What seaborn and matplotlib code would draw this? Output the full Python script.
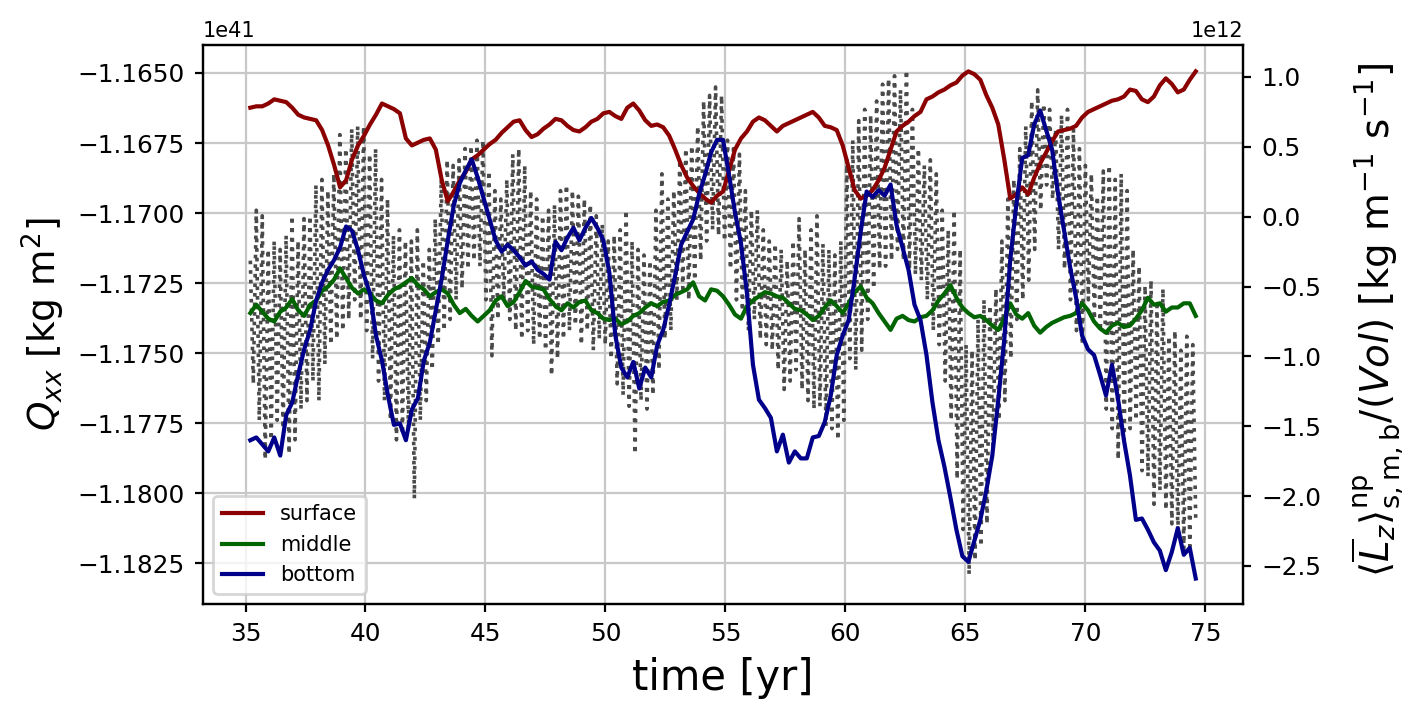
import numpy as np
import seaborn as sns
import matplotlib.pyplot as plt
from matplotlib.ticker import MultipleLocator

plt.rcParams["font.size"] = 7.5

# sampling of the time axis [yr]
t_start, t_end, n_pts = 35.2, 74.6, 159

# angular momentum per layer [1e12 kg m^-1 s^-1]
surface = [0.78, 0.79, 0.79, 0.81, 0.84, 0.83, 0.82, 0.78, 0.73, 0.71,
           0.70, 0.69, 0.62, 0.51, 0.37, 0.21, 0.26, 0.41, 0.51, 0.58,
           0.66, 0.73, 0.81, 0.79, 0.77, 0.74, 0.56, 0.51, 0.53, 0.55,
           0.56, 0.48, 0.26, 0.11, 0.18, 0.26, 0.32, 0.41, 0.44, 0.48,
           0.52, 0.55, 0.60, 0.64, 0.68, 0.69, 0.62, 0.57, 0.59, 0.63,
           0.66, 0.70, 0.69, 0.65, 0.62, 0.61, 0.64, 0.68, 0.70, 0.74,
           0.75, 0.72, 0.70, 0.78, 0.81, 0.76, 0.69, 0.65, 0.66, 0.64,
           0.58, 0.48, 0.37, 0.28, 0.22, 0.17, 0.13, 0.10, 0.15, 0.18,
           0.33, 0.48, 0.56, 0.61, 0.68, 0.71, 0.69, 0.65, 0.61, 0.65,
           0.67, 0.69, 0.71, 0.73, 0.75, 0.71, 0.65, 0.64, 0.62, 0.51,
           0.35, 0.19, 0.13, 0.15, 0.19, 0.26, 0.35, 0.48, 0.61, 0.65,
           0.68, 0.72, 0.75, 0.84, 0.86, 0.89, 0.91, 0.94, 0.96, 1.01,
           1.04, 1.02, 0.98, 0.87, 0.78, 0.66, 0.41, 0.13, 0.16, 0.21,
           0.16, 0.28, 0.38, 0.46, 0.54, 0.61, 0.62, 0.63, 0.65, 0.71,
           0.75, 0.77, 0.79, 0.81, 0.83, 0.84, 0.86, 0.91, 0.90, 0.84,
           0.82, 0.86, 0.94, 0.99, 0.95, 0.89, 0.91, 0.98, 1.04]

middle = [-0.69, -0.63, -0.68, -0.73, -0.75, -0.68, -0.65, -0.59, -0.67, -0.71,
          -0.63, -0.60, -0.53, -0.50, -0.45, -0.37, -0.44, -0.51, -0.55, -0.52,
          -0.55, -0.60, -0.62, -0.56, -0.52, -0.50, -0.47, -0.44, -0.49, -0.52,
          -0.57, -0.54, -0.52, -0.55, -0.63, -0.69, -0.66, -0.71, -0.75, -0.71,
          -0.67, -0.60, -0.57, -0.64, -0.61, -0.54, -0.46, -0.50, -0.51, -0.52,
          -0.59, -0.64, -0.67, -0.62, -0.65, -0.61, -0.60, -0.67, -0.69, -0.73,
          -0.74, -0.73, -0.77, -0.75, -0.71, -0.69, -0.65, -0.62, -0.64, -0.61,
          -0.60, -0.56, -0.54, -0.52, -0.47, -0.57, -0.60, -0.52, -0.53, -0.57,
          -0.63, -0.70, -0.73, -0.64, -0.60, -0.57, -0.54, -0.55, -0.57, -0.58,
          -0.62, -0.66, -0.67, -0.70, -0.74, -0.71, -0.65, -0.60, -0.64, -0.69,
          -0.62, -0.54, -0.50, -0.58, -0.62, -0.69, -0.75, -0.81, -0.73, -0.71,
          -0.74, -0.75, -0.72, -0.71, -0.67, -0.60, -0.55, -0.49, -0.58, -0.65,
          -0.69, -0.72, -0.71, -0.74, -0.78, -0.81, -0.73, -0.62, -0.70, -0.73,
          -0.69, -0.78, -0.83, -0.79, -0.76, -0.74, -0.72, -0.71, -0.69, -0.62,
          -0.67, -0.75, -0.80, -0.83, -0.78, -0.76, -0.79, -0.78, -0.73, -0.67,
          -0.58, -0.63, -0.62, -0.68, -0.65, -0.65, -0.62, -0.62, -0.71]

bottom = [-1.60, -1.58, -1.63, -1.68, -1.58, -1.71, -1.42, -1.33, -1.13, -0.95,
          -0.81, -0.60, -0.47, -0.38, -0.31, -0.22, -0.07, -0.10, -0.24, -0.42,
          -0.55, -0.85, -1.03, -1.28, -1.49, -1.48, -1.60, -1.38, -1.30, -1.03,
          -0.90, -0.67, -0.44, -0.17, 0.08, 0.24, 0.33, 0.41, 0.28, 0.13,
          -0.02, -0.17, -0.25, -0.20, -0.24, -0.29, -0.35, -0.32, -0.38, -0.41,
          -0.45, -0.18, -0.24, -0.15, -0.08, -0.17, -0.08, -0.01, -0.08, -0.17,
          -0.40, -0.85, -1.08, -1.15, -1.04, -1.23, -1.08, -1.15, -0.92, -0.81,
          -0.63, -0.42, -0.20, -0.11, -0.02, 0.16, 0.30, 0.46, 0.55, 0.55,
          0.30, 0.03, -0.19, -0.55, -1.06, -1.31, -1.37, -1.44, -1.68, -1.56,
          -1.76, -1.68, -1.73, -1.73, -1.58, -1.57, -1.47, -1.28, -0.99, -0.85,
          -0.74, -0.44, -0.11, 0.18, 0.14, 0.19, 0.15, 0.23, -0.06, -0.22,
          -0.38, -0.63, -0.74, -0.99, -1.33, -1.60, -1.79, -2.01, -2.24, -2.43,
          -2.47, -2.32, -2.17, -1.96, -1.71, -1.31, -0.88, -0.31, 0.08, 0.42,
          0.44, 0.66, 0.76, 0.62, 0.48, 0.16, -0.10, -0.36, -0.58, -0.85,
          -0.95, -0.99, -1.13, -1.28, -1.06, -1.30, -1.60, -1.85, -2.17, -2.16,
          -2.24, -2.33, -2.39, -2.53, -2.40, -2.23, -2.42, -2.37, -2.59]

# Q_xx [1e41 kg m^2], fast oscillation: crest and trough of each cycle
qxx_hi = [-1.1717, -1.1699, -1.1701, -1.1713, -1.1710, -1.1713, -1.1708, -1.1701, -1.1710, -1.1702,
          -1.1701, -1.1690, -1.1688, -1.1692, -1.1686, -1.1672, -1.1677, -1.1670, -1.1669, -1.1669,
          -1.1679, -1.1677, -1.1688, -1.1695, -1.1708, -1.1706, -1.1710, -1.1710, -1.1706, -1.1717,
          -1.1713, -1.1702, -1.1688, -1.1681, -1.1683, -1.1681, -1.1677, -1.1676, -1.1674, -1.1674,
          -1.1685, -1.1692, -1.1695, -1.1688, -1.1679, -1.1677, -1.1683, -1.1692, -1.1695, -1.1701,
          -1.1699, -1.1697, -1.1692, -1.1690, -1.1692, -1.1694, -1.1695, -1.1697, -1.1701, -1.1704,
          -1.1710, -1.1708, -1.1706, -1.1699, -1.1710, -1.1713, -1.1715, -1.1717, -1.1699, -1.1686,
          -1.1695, -1.1692, -1.1681, -1.1677, -1.1676, -1.1669, -1.1660, -1.1658, -1.1655, -1.1658,
          -1.1674, -1.1677, -1.1679, -1.1692, -1.1699, -1.1699, -1.1706, -1.1710, -1.1711, -1.1713,
          -1.1717, -1.1710, -1.1702, -1.1713, -1.1706, -1.1701, -1.1711, -1.1713, -1.1715, -1.1710,
          -1.1681, -1.1674, -1.1667, -1.1663, -1.1665, -1.1660, -1.1654, -1.1652, -1.1651, -1.1656,
          -1.1649, -1.1663, -1.1677, -1.1683, -1.1681, -1.1686, -1.1699, -1.1706, -1.1699, -1.1713,
          -1.1747, -1.1749, -1.1738, -1.1731, -1.1733, -1.1727, -1.1710, -1.1695, -1.1688, -1.1677,
          -1.1669, -1.1660, -1.1656, -1.1661, -1.1663, -1.1670, -1.1665, -1.1663, -1.1670, -1.1677,
          -1.1683, -1.1686, -1.1694, -1.1685, -1.1683, -1.1688, -1.1686, -1.1692, -1.1713, -1.1719,
          -1.1726, -1.1724, -1.1733, -1.1727, -1.1744, -1.1742, -1.1749, -1.1744, -1.1747]

qxx_lo = [-1.1761, -1.1774, -1.1788, -1.1781, -1.1774, -1.1777, -1.1786, -1.1781, -1.1770, -1.1767,
          -1.1760, -1.1767, -1.1754, -1.1747, -1.1745, -1.1742, -1.1738, -1.1731, -1.1738, -1.1742,
          -1.1752, -1.1760, -1.1767, -1.1774, -1.1781, -1.1779, -1.1777, -1.1802, -1.1774, -1.1767,
          -1.1756, -1.1747, -1.1742, -1.1738, -1.1731, -1.1727, -1.1720, -1.1717, -1.1719, -1.1731,
          -1.1751, -1.1738, -1.1731, -1.1738, -1.1742, -1.1745, -1.1742, -1.1747, -1.1745, -1.1749,
          -1.1758, -1.1752, -1.1745, -1.1742, -1.1740, -1.1747, -1.1742, -1.1749, -1.1745, -1.1747,
          -1.1752, -1.1761, -1.1765, -1.1769, -1.1786, -1.1767, -1.1770, -1.1765, -1.1756, -1.1745,
          -1.1742, -1.1731, -1.1727, -1.1731, -1.1724, -1.1717, -1.1710, -1.1706, -1.1708, -1.1710,
          -1.1720, -1.1731, -1.1735, -1.1742, -1.1738, -1.1745, -1.1747, -1.1749, -1.1756, -1.1763,
          -1.1760, -1.1756, -1.1763, -1.1767, -1.1770, -1.1769, -1.1776, -1.1777, -1.1781, -1.1774,
          -1.1752, -1.1756, -1.1749, -1.1738, -1.1727, -1.1720, -1.1719, -1.1717, -1.1713, -1.1717,
          -1.1720, -1.1722, -1.1724, -1.1731, -1.1742, -1.1747, -1.1760, -1.1774, -1.1795, -1.1813,
          -1.1829, -1.1824, -1.1819, -1.1811, -1.1785, -1.1774, -1.1767, -1.1752, -1.1738, -1.1731,
          -1.1724, -1.1713, -1.1699, -1.1690, -1.1695, -1.1713, -1.1720, -1.1731, -1.1742, -1.1747,
          -1.1731, -1.1738, -1.1742, -1.1770, -1.1777, -1.1788, -1.1781, -1.1777, -1.1774, -1.1792,
          -1.1794, -1.1804, -1.1799, -1.1806, -1.1811, -1.1815, -1.1820, -1.1819, -1.1810]

time = np.linspace(t_start, t_end, n_pts)
qxx = np.empty(2 * n_pts)
qxx[0::2] = qxx_hi
qxx[1::2] = qxx_lo
qxx_time = np.linspace(t_start, t_end, 2 * n_pts)

fig, ax = plt.subplots(figsize=(7.065, 3.57), dpi=200)
fig.subplots_adjust(left=0.1437, right=0.8797, bottom=0.1541, top=0.937)

sns.lineplot(x=qxx_time, y=qxx * 1e41, ax=ax, color="#4a4a4a", linestyle=":",
             linewidth=1.3, estimator=None, sort=False)
ax.grid(True, color="#c8c8c8", linewidth=0.8)
ax.set_axisbelow(True)

ax2 = ax.twinx()
layers = [("surface", surface, "darkred"),
          ("middle", middle, "darkgreen"),
          ("bottom", bottom, "darkblue")]
for name, vals, col in layers:
    sns.lineplot(x=time, y=np.array(vals) * 1e12, ax=ax2, color=col,
                 linewidth=1.5, label=name, estimator=None)
ax2.legend(loc="lower left", fontsize=7.5)

ax.set_xlim(33.23, 76.57)
ax.set_ylim(-1.18396e41, -1.1640e41)
ax2.set_ylim(-2.772e12, 1.229e12)
ax.yaxis.set_major_locator(MultipleLocator(0.0025e41))
ax2.yaxis.set_major_locator(MultipleLocator(0.5e12))

ax.tick_params(labelsize=8.9, length=3)
ax2.tick_params(labelsize=8.9, length=3)

ax.set_xlabel("time [yr]", fontsize=15)
ax.set_ylabel(r"$Q_{xx}$ [kg m$^2$]", fontsize=13.5)
ax2.set_ylabel(r"$\langle\overline{L}_z\rangle^{\mathrm{np}}_{\mathrm{s,m,b}}/(Vol)$ [kg m$^{-1}$ s$^{-1}$]",
               fontsize=14)
ax2.yaxis.set_label_coords(1.102, 0.508)

fig.savefig("out.png", dpi=200)
